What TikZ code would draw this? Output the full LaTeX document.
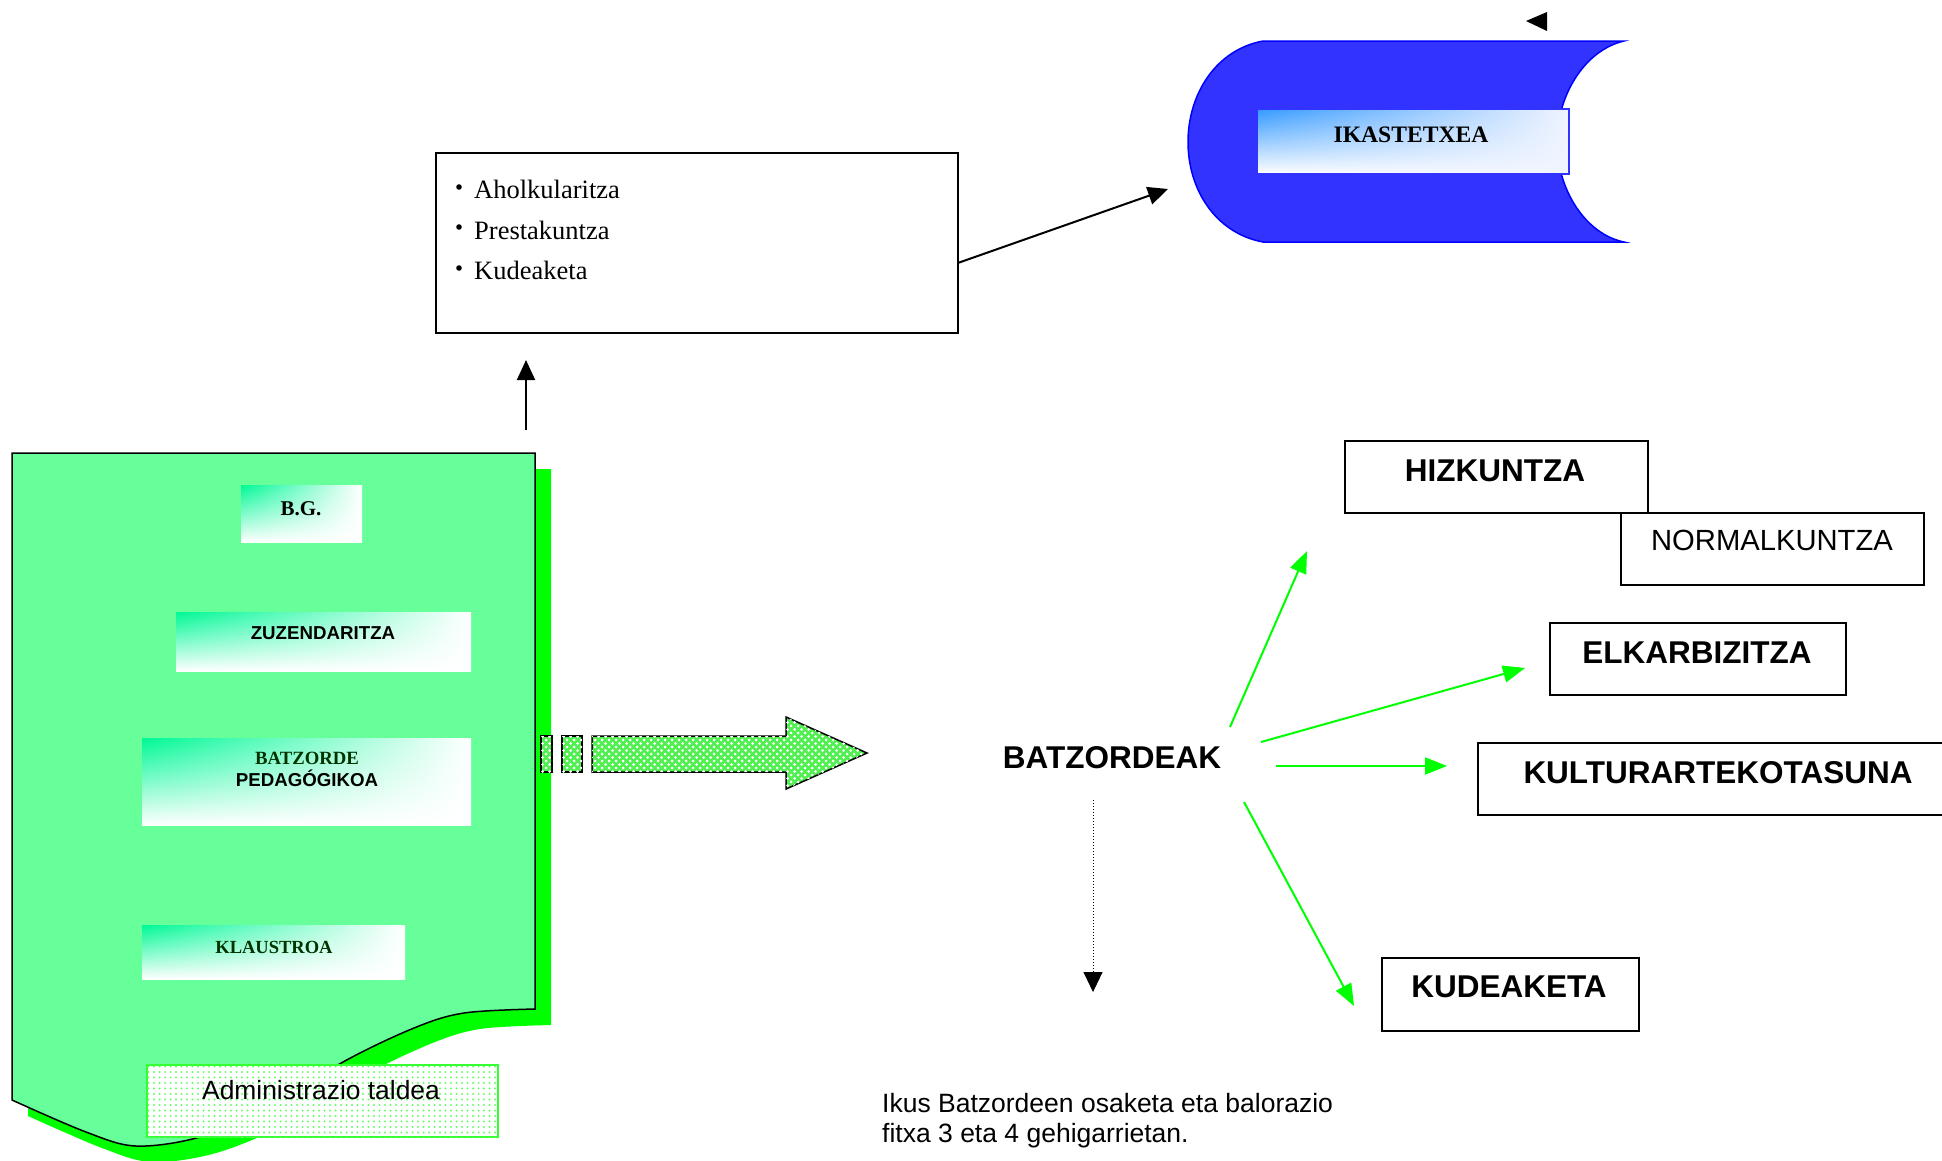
\documentclass[tikz,border=0pt]{standalone}
\usepackage{fontspec}
\setmainfont{Liberation Serif}
\newfontfamily\fArial{Liberation Sans}
\newfontfamily\fTimes{Liberation Serif}
\usetikzlibrary{arrows.meta,patterns,calc,shadings}
\pgfdeclarepatternformonly{bigdots}{\pgfqpoint{-1pt}{-1pt}}{\pgfqpoint{6pt}{6pt}}{\pgfqpoint{5.5pt}{5.5pt}}{%
  \pgfpathcircle{\pgfqpoint{0pt}{0pt}}{1.1pt}\pgfusepath{fill}}
\pgfdeclarepatternformonly{crossdots}{\pgfqpoint{-2pt}{-2pt}}{\pgfqpoint{8pt}{8pt}}{\pgfqpoint{7pt}{7pt}}{%
  \pgfpathcircle{\pgfqpoint{0pt}{0pt}}{1.5pt}\pgfusepath{fill}%
  \pgfpathcircle{\pgfqpoint{3.5pt}{3.5pt}}{1.5pt}\pgfusepath{fill}}
\definecolor{pagefill}{RGB}{102,255,153}
\definecolor{shadowgreen}{RGB}{0,255,0}
\definecolor{gtop}{RGB}{0,248,150}
\definecolor{dkgreen}{RGB}{0,51,0}
\definecolor{bluefill}{RGB}{51,51,255}
\definecolor{blueline}{RGB}{0,0,255}
\definecolor{btop}{RGB}{51,153,255}
\definecolor{blow}{RGB}{240,244,255}
\definecolor{arrowgreen}{RGB}{0,255,0}
\definecolor{stripefill}{RGB}{80,240,80}
\definecolor{admingreen}{RGB}{51,255,51}
\newcommand\fsz[1]{\fontsize{#1}{#1}\selectfont}
\begin{document}
\begin{tikzpicture}[x=1pt,y=-1pt,
  gbox/.style={anchor=north west, inner sep=0pt, shade, upper left=gtop, upper right=white, lower left=white, lower right=white},
  wbox/.style={anchor=north west, inner sep=0pt, draw=black, line width=2pt, fill=white},
  bigtxt/.style={anchor=base, inner sep=0pt, font=\fArial\bfseries\fsz{31.5}},
  smsans/.style={anchor=base, inner sep=0pt, font=\fArial\bfseries\fsz{18.7}},
  smserif/.style={anchor=base, inner sep=0pt, text=dkgreen, font=\fTimes\bfseries\fsz{18.7}},
  listtxt/.style={anchor=base west, inner sep=0pt, font=\fTimes\fsz{26.5}},
  garrow/.style={draw=arrowgreen, line width=2pt, -{Triangle[length=22pt,width=17pt]}},
  barrow/.style={draw=black, line width=2pt, -{Triangle[length=20pt,width=18pt]}},
  stripe/.style={draw=black, line width=1.5pt, fill=stripefill, postaction={pattern=crossdots, pattern color=white}}
]
\useasboundingbox[fill=white] (0,0) rectangle (1942,1160);

% ---------- page shadow and page ----------
\fill[shadowgreen, shift={(16,16)}] (12,453) -- (535,453) -- (535,1009)
  -- plot[smooth, tension=0.55] coordinates {(535,1009) (464,1013) (414,1028) (343,1062) (270,1108) (200,1137) (136,1146) (86,1132) (12,1100)} -- cycle;
\draw[fill=pagefill, line width=1.5pt] (12,453) -- (535,453) -- (535,1009)
  -- plot[smooth, tension=0.55] coordinates {(535,1009) (464,1013) (414,1028) (343,1062) (270,1108) (200,1137) (136,1146) (86,1132) (12,1100)} -- cycle;

% ---------- boxes inside the page ----------
\node[gbox, minimum width=121pt, minimum height=57pt] (bg) at (241,485) {};
\node[anchor=base, inner sep=0pt, font=\fTimes\bfseries\fsz{21}] (bgt) at (301,515) {B.G.};

\node[gbox, minimum width=295pt, minimum height=59pt] (zuz) at (176,612) {};
\node[smsans] (zuzt) at (323,639) {ZUZENDARITZA};

\node[gbox, minimum width=329pt, minimum height=87pt] (bped) at (142,738) {};
\node[smserif] (bpedt1) at (307,764) {BATZORDE};
\node[smsans] (bpedt2) at (307,786) {PEDAGÓGIKOA};

\node[gbox, minimum width=263pt, minimum height=54pt] (klau) at (142,925) {};
\node[smserif, font=\fTimes\bfseries\fsz{18.5}] (klaut) at (274,953) {KLAUSTROA};

\node[anchor=north west, inner sep=0pt, minimum width=351pt, minimum height=72pt, draw=admingreen, line width=2pt, fill=white, postaction={pattern=bigdots, pattern color=admingreen!75}] (admin) at (146,1064) {};
\node[anchor=base, inner sep=0pt, font=\fArial\fsz{26.4}] (admint) at (321,1099) {Administrazio taldea};

% ---------- striped arrow ----------
\draw[stripe] (541,736) rectangle (552,772);
\draw[stripe] (562,736) rectangle (582,772);
\draw[stripe] (592,736) -- (786,736) -- (786,717) -- (867,753) -- (786,789) -- (786,772) -- (592,772) -- cycle;

% ---------- top list box ----------
\node[wbox, line width=1.5pt, minimum width=522pt, minimum height=180pt] (topbox) at (435,152) {};
\fill (459,187) circle (2.8pt);
\fill (459,227) circle (2.8pt);
\fill (459,268) circle (2.8pt);
\node[listtxt] (l1) at (474,198) {Aholkularitza};
\node[listtxt] (l2) at (474,239) {Prestakuntza};
\node[listtxt] (l3) at (474,279) {Kudeaketa};

\coordinate (upS) at (526,430);
\coordinate (upE) at (526,360);
\draw[barrow] (upS) -- (upE);

% ---------- IKASTETXEA ----------
\draw[blueline, fill=bluefill, line width=1.5pt] (1263,41) -- (1624,41)
  .. controls (1585,50) and (1557,95) .. (1557,142)
  .. controls (1557,189) and (1585,234) .. (1624,242)
  -- (1263,242)
  .. controls (1215,233) and (1188,189) .. (1188,142)
  .. controls (1188,95) and (1215,50) .. (1263,41) -- cycle;
\node[anchor=north west, inner sep=0pt, minimum width=312pt, minimum height=65pt, draw=bluefill, line width=1.5pt, shade, upper left=btop, upper right=blow, lower left=white, lower right=blow] (ikas) at (1256,108) {};
\node[anchor=base, inner sep=0pt, font=\fTimes\bfseries\fsz{23.6}] (ikast) at (1411,142) {IKASTETXEA};
\fill (1526,21) -- (1547,12) -- (1547,31) -- cycle;

\coordinate (ikTip) at (1168,189);
\draw[barrow] ($(topbox.east)+(0,20)$) -- (ikTip);

% ---------- right side ----------
\node[bigtxt] (batz) at (1112,768) {BATZORDEAK};

\node[wbox, minimum width=303pt, minimum height=72pt] (hiz) at (1344,440) {};
\node[bigtxt] (hizt) at (1495,481) {HIZKUNTZA};
\node[wbox, minimum width=303pt, minimum height=72pt] (norm) at (1620,512) {};
\node[anchor=base, inner sep=0pt, font=\fArial\fsz{29.2}] (normt) at (1772,550) {NORMALKUNTZA};
\node[wbox, minimum width=296pt, minimum height=72pt] (elk) at (1549,622) {};
\node[bigtxt] (elkt) at (1697,663) {ELKARBIZITZA};
\node[wbox, minimum width=500pt, minimum height=72pt] (kul) at (1477,742) {};
\node[bigtxt] (kult) at (1718,783) {KULTURARTEKOTASUNA};
\node[wbox, minimum width=257pt, minimum height=73pt] (kud) at (1381,957) {};
\node[bigtxt] (kudt) at (1509,997) {KUDEAKETA};

\coordinate (g1s) at (1230,727); \coordinate (g1e) at (1307,551);
\coordinate (g2s) at (1261,742); \coordinate (g2e) at (1525,668);
\coordinate (g3s) at (1276,766); \coordinate (g3e) at (1447,766);
\coordinate (g4s) at (1244,802); \coordinate (g4e) at (1354,1006);
\draw[garrow] (g1s) -- (g1e);
\draw[garrow] (g2s) -- (g2e);
\draw[garrow] (g3s) -- (g3e);
\draw[garrow] (g4s) -- (g4e);

\coordinate (dS) at (1093,800);
\coordinate (dE) at (1093,992);
\draw[dotted, line width=1pt, -{Triangle[length=20pt,width=19pt]}] (dS) -- (dE);

\node[anchor=base west, inner sep=0pt, font=\fArial\fsz{26.5}] (note1) at (882,1112) {Ikus Batzordeen osaketa eta balorazio};
\node[anchor=base west, inner sep=0pt, font=\fArial\fsz{26.5}] (note2) at (882,1142) {fitxa 3 eta 4 gehigarrietan.};
\end{tikzpicture}
\end{document}
